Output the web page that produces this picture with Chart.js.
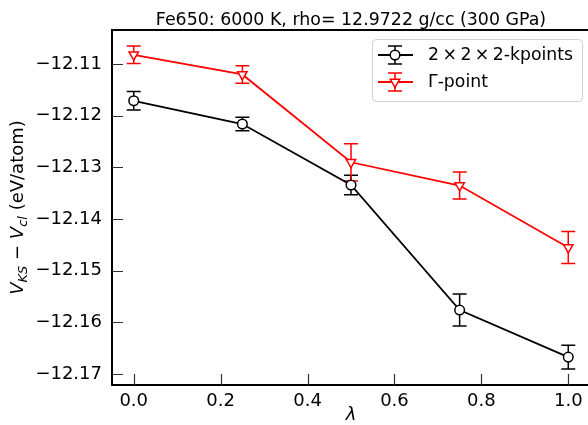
<!DOCTYPE html>
<html>
<head>
<meta charset="utf-8">
<script src="https://cdn.jsdelivr.net/npm/chart.js@4/dist/chart.umd.min.js"></script>
<style>
  html, body { margin: 0; padding: 0; background: #fff; overflow: hidden; }
  #wrap { position: absolute; left: 0; top: 0; width: 600px; height: 425px; }
</style>
</head>
<body>
<div id="wrap"><canvas id="myChart" width="600" height="425"></canvas></div>
<script>
// values
const lambdas = [0, 0.25, 0.5, 0.75, 1.0];
const kpoints = [-12.1171, -12.1216, -12.1334, -12.1576, -12.1667];
const kpointsErr = [0.0018, 0.0013, 0.0019, 0.0031, 0.0023];
const gamma = [-12.1082, -12.1120, -12.1290, -12.1335, -12.1455];
const gammaErr = [0.0017, 0.0017, 0.0036, 0.0026, 0.0031];
const xTicks = [0.0, 0.2, 0.4, 0.6, 0.8, 1.0];
const yTicks = [-12.17, -12.16, -12.15, -12.14, -12.13, -12.12, -12.11];

const FONT = '"DejaVu Sans", sans-serif';
const titleText = 'Fe650: 6000 K, rho= 12.9722 g/cc (300 GPa)';

const ctx = document.getElementById('myChart');

// error bars drawn under the markers
const errorBars = {
  id: 'errorBars',
  beforeDatasetsDraw(chart) {
    const c = chart.ctx, y = chart.scales.y, x = chart.scales.x;
    chart.data.datasets.forEach(ds => {
      c.save();
      c.strokeStyle = ds.borderColor;
      c.lineWidth = 1.5;
      ds.raw.forEach((v, i) => {
        const px = x.getPixelForValue(lambdas[i]);
        const top = y.getPixelForValue(v + ds.err[i]);
        const bot = y.getPixelForValue(v - ds.err[i]);
        c.beginPath();
        c.moveTo(px, top); c.lineTo(px, bot);
        c.moveTo(px - 7, top); c.lineTo(px + 7, top);
        c.moveTo(px - 7, bot); c.lineTo(px + 7, bot);
        c.stroke();
      });
      c.restore();
    });
  }
};

function drawMarker(c, ds, px, py) {
  c.save();
  c.fillStyle = '#fff';
  c.strokeStyle = ds.borderColor;
  c.lineWidth = 1.5;
  c.beginPath();
  if (ds.pointStyle === 'triangle') {
    const r = ds.pointRadius;
    c.moveTo(px - r * 0.866, py - r * 0.5);
    c.lineTo(px + r * 0.866, py - r * 0.5);
    c.lineTo(px, py + r);
    c.closePath();
  } else {
    c.arc(px, py, ds.pointRadius, 0, Math.PI * 2);
  }
  c.fill(); c.stroke();
  c.restore();
}

const decorations = {
  id: 'decorations',
  afterDraw(chart) {
    const c = chart.ctx, a = chart.chartArea, x = chart.scales.x, y = chart.scales.y;
    c.save();
    // inward ticks
    c.strokeStyle = '#333';
    c.lineWidth = 1.2;
    c.beginPath();
    xTicks.forEach(v => {
      const px = Math.round(x.getPixelForValue(v)) + 0.5;
      c.moveTo(px, a.bottom); c.lineTo(px, a.bottom - 11);
    });
    yTicks.forEach(v => {
      const py = Math.round(y.getPixelForValue(v)) + 0.5;
      c.moveTo(a.left, py); c.lineTo(a.left + 11, py);
    });
    c.stroke();
    // top and right spines
    c.strokeStyle = '#000';
    c.lineWidth = 2;
    c.beginPath();
    c.moveTo(a.left, a.top); c.lineTo(a.right, a.top); c.lineTo(a.right, a.bottom);
    c.stroke();

    // title
    c.fillStyle = '#000';
    c.font = '17.4px ' + FONT;
    c.textAlign = 'center';
    c.textBaseline = 'alphabetic';
    c.fillText(titleText, (a.left + a.right) / 2, 25);

    // x label
    c.font = 'italic 18px ' + FONT;
    c.fillText('\u03bb', (a.left + a.right) / 2, 420);

    // y label with subscripts
    const parts = [
      { t: 'V', f: 'italic 18px ' + FONT, dy: 0 },
      { t: 'KS', f: 'italic 13px ' + FONT, dy: 4 },
      { t: ' \u2212 ', f: '18px ' + FONT, dy: 0 },
      { t: 'V', f: 'italic 18px ' + FONT, dy: 0 },
      { t: 'cl', f: 'italic 13px ' + FONT, dy: 4 },
      { t: ' (eV/atom)', f: '18px ' + FONT, dy: 0 }
    ];
    let w = 0;
    parts.forEach(p => { c.font = p.f; p.w = c.measureText(p.t).width; w += p.w; });
    c.translate(23, (a.top + a.bottom) / 2);
    c.rotate(-Math.PI / 2);
    c.textAlign = 'left';
    let cx = -w / 2;
    parts.forEach(p => { c.font = p.f; c.fillText(p.t, cx, p.dy); cx += p.w; });
    c.restore();

    // legend
    c.save();
    const lx = 372, ly = 39, lw = 210, lh = 62;
    c.fillStyle = 'rgba(255,255,255,0.8)';
    c.strokeStyle = '#d0d0d0';
    c.lineWidth = 1;
    c.beginPath();
    c.roundRect(lx + 0.5, ly + 0.5, lw, lh, 4);
    c.fill(); c.stroke();
    const rows = [chart.data.datasets[0], chart.data.datasets[1]];
    rows.forEach((ds, i) => {
      const ry = 55 + i * 27;
      c.strokeStyle = ds.borderColor;
      c.lineWidth = 1.8;
      c.beginPath();
      c.moveTo(378, ry); c.lineTo(413, ry);
      c.stroke();
      c.lineWidth = 1.5;
      c.beginPath();
      c.moveTo(395, ry - 9); c.lineTo(395, ry + 9);
      c.moveTo(388, ry - 9); c.lineTo(402, ry - 9);
      c.moveTo(388, ry + 9); c.lineTo(402, ry + 9);
      c.stroke();
      drawMarker(c, ds, 395, ry);
      c.fillStyle = '#000';
      c.font = '17.3px ' + FONT;
      c.textAlign = 'left';
      c.textBaseline = 'middle';
      c.fillText(ds.label, 428, ry + 1);
    });
    c.restore();
  }
};

new Chart(ctx, {
  type: 'line',
  data: {
    datasets: [{
      label: '2\u2009\u00d7\u20092\u2009\u00d7\u20092-kpoints',
      raw: kpoints,
      err: kpointsErr,
      borderColor: '#000',
      borderWidth: 1.8,
      pointStyle: 'circle',
      pointRadius: 4.8,
      pointBackgroundColor: '#fff',
      pointBorderColor: '#000',
      pointBorderWidth: 1.5,
      order: 1
    }, {
      label: '\u0393-point',
      raw: gamma,
      err: gammaErr,
      borderColor: '#ff0000',
      borderWidth: 1.8,
      pointStyle: 'triangle',
      pointRotation: 180,
      pointRadius: 5.4,
      pointBackgroundColor: '#fff',
      pointBorderColor: '#ff0000',
      pointBorderWidth: 1.5,
      order: 0
    }].map(ds => ({ ...ds, data: ds.raw.map((v, i) => ({ x: lambdas[i], y: v })) }))
  },
  options: {
    responsive: false,
    animation: false,
    layout: { padding: { top: 30, right: 10, left: 0, bottom: 0 } },
    plugins: { legend: { display: false }, title: { display: false }, tooltip: { enabled: false } },
    scales: {
      x: {
        type: 'linear',
        min: -0.05, max: 1.05,
        afterBuildTicks: s => { s.ticks = xTicks.map(v => ({ value: v })); },
        afterFit: s => { s.height = 40; },
        grid: { display: false, drawTicks: false },
        border: { display: true, color: '#000', width: 2 },
        ticks: { color: '#000', padding: 6, font: { family: FONT, size: 18 }, maxRotation: 0,
          callback: v => v.toFixed(1) }
      },
      y: {
        min: -12.1721, max: -12.1034,
        afterBuildTicks: s => { s.ticks = yTicks.map(v => ({ value: v })); },
        afterFit: s => { s.width = 112; },
        grid: { display: false, drawTicks: false },
        border: { display: true, color: '#000', width: 2 },
        ticks: { color: '#000', padding: 10, font: { family: FONT, size: 18 },
          callback: v => v.toFixed(2).replace('-', '\u2212') }
      }
    }
  },
  plugins: [errorBars, decorations]
});
</script>
</body>
</html>
